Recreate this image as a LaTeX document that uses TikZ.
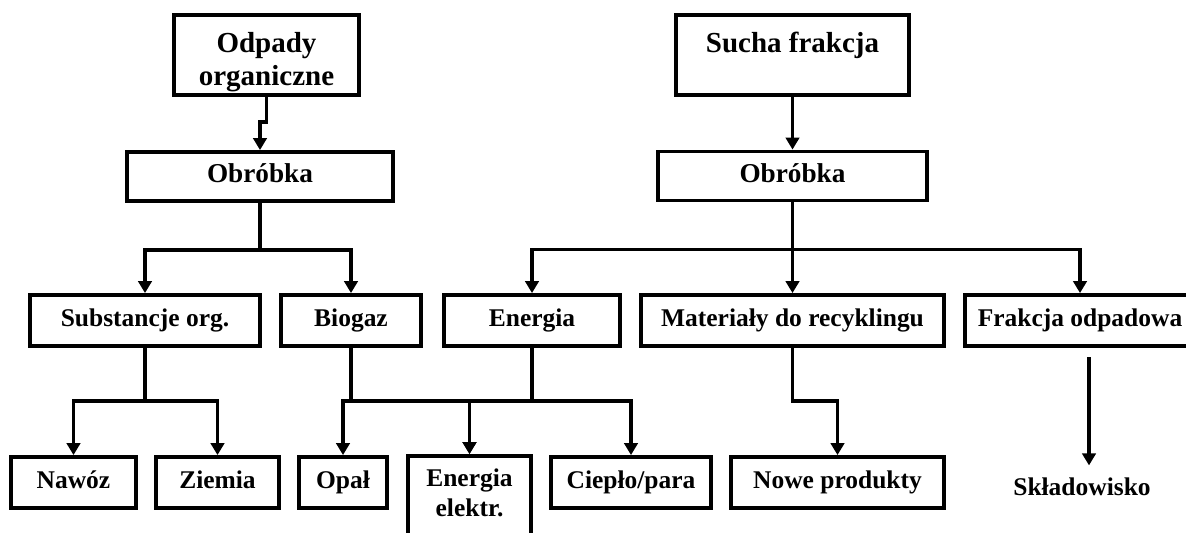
\documentclass[tikz,border=0pt]{standalone}
\usepackage{fontspec}
\setmainfont{Liberation Serif}
\usetikzlibrary{arrows.meta}
\newcommand{\topstrut}{\rule{0pt}{21.5pt}}
\tikzset{
	box/.style={draw, line width=2.2pt, inner sep=0pt, align=center,
		minimum height=1.02cm, font=\fontsize{14.5}{17}\selectfont\bfseries,
		execute at begin node=\strut, execute at end node=\strut},
	topbox/.style={box, minimum height=1.6cm, font=\fontsize{16.5}{18.7}\selectfont\bfseries},
	midbox/.style={box, minimum height=0.98cm, font=\fontsize{15.5}{18}\selectfont\bfseries},
	conn/.style={->, line width=2.2pt},
}
\begin{document}
\begin{tikzpicture}[>={Triangle[length=6.8pt,width=7.6pt]},x=0.02cm,y=-0.02cm]
	\useasboundingbox (0,0) rectangle (1186,532);
	% gora
	\node[topbox, minimum width=3.7cm] (odp) at (266.5,55) {\topstrut Odpady\\organiczne};
	\node[topbox, minimum width=4.66cm] (suc) at (792.5,55) {\topstrut Sucha frakcja\\};
	\node[midbox, minimum width=5.32cm] (obr1) at (260,176.5) {Obróbka};
	\node[midbox, minimum width=5.38cm] (obr2) at (792.5,176) {Obróbka};
	% drugi poziom
	\node[box, minimum width=4.6cm] (sub) at (145,320.5) {Substancje org.};
	\node[box, minimum width=2.8cm] (bio) at (351,320.5) {Biogaz};
	\node[box, minimum width=3.52cm] (ene) at (532,320.5) {Energia};
	\node[box, minimum width=6.06cm] (mat) at (792.5,320.5) {Materiały do recyklingu};
	\node[box, minimum width=4.6cm] (fra) at (1080,320.5) {Frakcja odpadowa};
	% dol
	\node[box, minimum width=2.5cm] (naw) at (73.5,482.5) {Nawóz};
	\node[box, minimum width=2.46cm] (zie) at (217.5,482.5) {Ziemia};
	\node[box, minimum width=1.76cm] (opa) at (343,482.5) {Opał};
	\node[box, minimum width=2.46cm, minimum height=1.64cm] (ele) at (469.5,497) {Energia\\elektr.};
	\node[box, minimum width=3.2cm] (cie) at (631,482.5) {Ciepło/para};
	\node[box, minimum width=4.26cm] (now) at (837.5,482.5) {Nowe produkty};
	\node[inner sep=7pt, font=\fontsize{14.5}{17}\selectfont\bfseries] (skl) at (1082,487) {Składowisko};
	\coordinate (fraOut) at (1089,357);
	% strzalki
	\draw[conn] (odp.south) -- ++(0,25) -| (obr1.north);
	\draw[conn] (suc.south) -- (obr2.north);
	\draw[conn] (obr1.south) -- ++(0,47) -| (sub.north);
	\draw[conn] (obr1.south) -- ++(0,47) -| (bio.north);
	\draw[conn] (obr2.south) -- ++(0,47) -| (ene.north);
	\draw[conn] (obr2.south) -- (mat.north);
	\draw[conn] (obr2.south) -- ++(0,47) -| (fra.north);
	\draw[conn] (sub.south) -- ++(0,53) -| (naw.north);
	\draw[conn] (sub.south) -- ++(0,53) -| (zie.north);
	\draw[conn] (bio.south) -- ++(0,53) -| (opa.north);
	\draw[conn] (bio.south) -- ++(0,53) -| (ele.north);
	\draw[conn] (ene.south) -- ++(0,53) -| (ele.north);
	\draw[conn] (ene.south) -- ++(0,53) -| (cie.north);
	\draw[conn] (mat.south) -- ++(0,53) -| (now.north);
	\draw[conn] (fraOut) -- (fraOut |- skl.north);
\end{tikzpicture}
\end{document}
